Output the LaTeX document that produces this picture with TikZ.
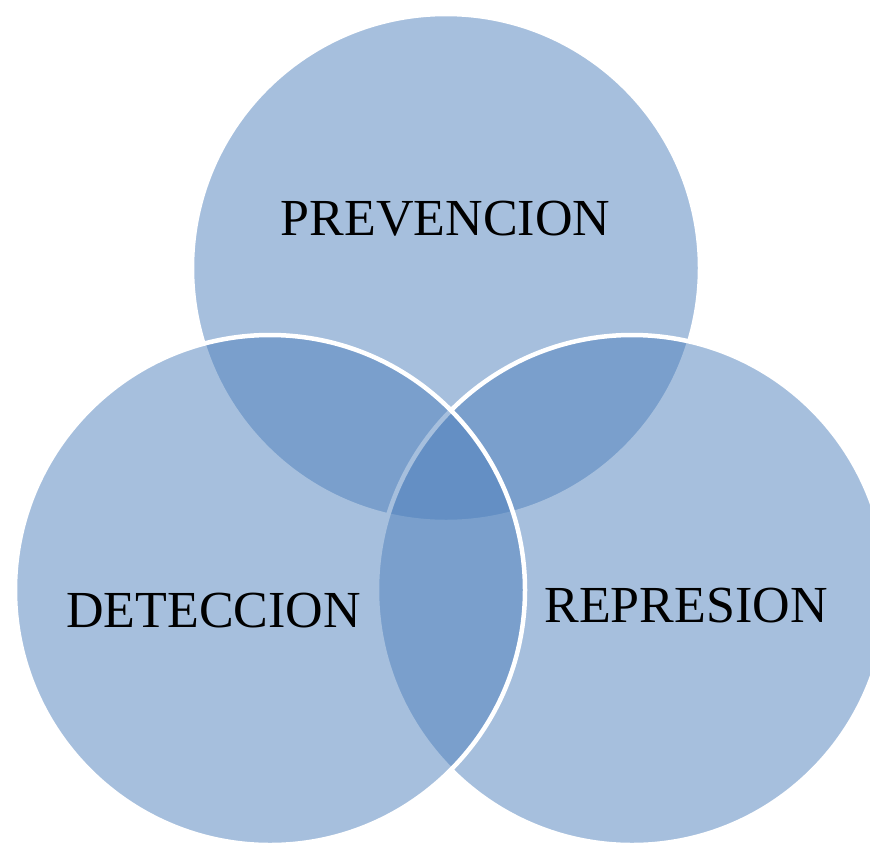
\documentclass[tikz,border=0pt]{standalone}
\usepackage{fontspec}
\setmainfont{Liberation Serif}
\definecolor{vblue}{HTML}{4F81BD}
\begin{document}
\begin{tikzpicture}[x=1pt,y=-1pt,
  venn/.style={fill=vblue, fill opacity=0.5, draw=white, line width=4.5pt},
  lbl/.style={font=\fontsize{52}{60}\selectfont, text=black, anchor=base, inner sep=0pt}]
\useasboundingbox (0,0) rectangle (870,844);
\clip (0,0) rectangle (870,844);
\fill[white] (0,0) rectangle (870,844);
\coordinate (ctop) at (446,268);
\coordinate (cright) at (632,590);
\coordinate (cleft) at (270,590);
\draw[venn] (ctop) circle[radius=254pt];
\draw[venn] (cright) circle[radius=255pt];
\draw[venn] (cleft) circle[radius=255pt];
\node[lbl] (prev) at (445.5,235) {PREVENCION};
\node[lbl] (dete) at (213.5,627) {DETECCION};
\node[lbl] (repr) at (686,622) {REPRESION};
\end{tikzpicture}
\end{document}
